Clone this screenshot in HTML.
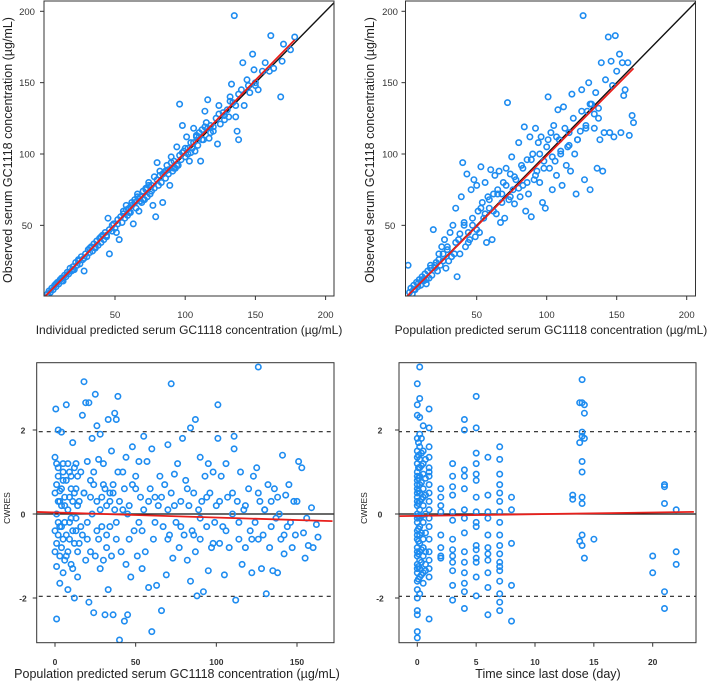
<!DOCTYPE html>
<html><head><meta charset="utf-8">
<style>
html,body{margin:0;padding:0;background:#fff;}
svg{display:block;font-family:"Liberation Sans",Arial,sans-serif;}
</style></head>
<body>
<svg id="fig" width="709" height="684" viewBox="0 0 709 684" xmlns="http://www.w3.org/2000/svg"></svg>
<script>
// ---- Panel A: observed vs individual predicted ----
const ipredX = [2,3,4,5,6,7,8,9,10,11,12,13,14,15,16,17,18,19,20,21,22,23,24,25,26,27,28,29,30,31,32,33,34,35,36,37,38,39,40,41,42,43,44,45,46,46,48,49,50,51,52,53,54,55,56,57,58,59,60,61,62,63,64,65,66,67,68,69,70,71,72,73,74,75,76,77,78,79,80,80,81,82,83,84,85,86,87,88,89,90,91,92,93,94,95,96,97,98,99,100,101,102,103,104,105,106,107,108,109,110,111,112,113,114,115,116,117,118,120,122,123,124,125,127,128,130,131,132,133,134,135,136,137,138,138,140,141,142,144,146,148,149,150,152,155,157,160,161,163,168,169,170,178,175,
 8,12,16,20,24,28,32,36,40,44,48,52,56,60,64,68,72,76,84,88,92,96,100,104,108,112,116,120,124,128,132,136,145,150,58,62,66,70,74,78,82,86,90,94,98,102,106,110,114,118];
const ipredDV = [2,4,3,6,5,8,7,10,9,12,13,11,15,14,17,16,20,18,21,19,24,22,25,23,28,26,18,30,28,33,31,35,32,37,34,39,36,41,38,43,40,45,42,55,30,47,46,51,48,45,54,40,56,52,58,55,64,57,62,59,66,51,68,62,72,60,70,66,74,68,76,70,80,72,78,64,84,56,82,94,78,88,80,66,87,83,92,86,78,98,88,95,90,105,92,135,96,120,102,98,112,100,95,108,104,118,102,113,106,115,95,117,110,130,122,138,111,120,116,125,107,134,121,129,124,131,126,140,149,136,197,126,116,110,142,145,164,134,152,143,170,159,150,145,158,164,158,183,160,140,165,177,182,173,
 9,11,17,19,26,27,34,35,42,43,50,51,60,59,66,67,75,74,86,89,90,99,104,101,112,110,118,119,128,127,137,134,148,148,61,64,70,68,78,76,85,88,94,92,101,104,108,112,119,115];
const ipredFit = [0,178]; const ipredFitY = [0,180];

// ---- Panel B: observed vs population predicted ----
const predX = [1,2,3,4,5,6,7,8,9,10,11,12,13,14,15,16,17,18,19,20,21,22,23,24,25,26,27,28,29,30,31,32,33,34,35,36,37,38,39,40,41,42,43,44,45,46,47,48,49,50,51,52,53,54,55,56,57,58,59,60,61,62,63,64,65,66,67,68,69,70,71,72,73,74,75,76,77,78,80,81,82,83,84,85,86,87,88,89,90,91,92,93,94,95,96,97,98,99,100,101,102,103,104,105,106,107,108,109,110,111,112,114,115,116,117,118,120,121,122,124,125,126,127,128,129,130,131,132,134,135,136,137,138,139,140,141,142,144,145,146,147,148,149,150,152,153,154,155,156,158,159,161,162,
 5,8,11,14,17,20,23,26,29,32,35,38,41,44,47,50,53,56,59,62,65,68,71,74,77,80,83,86,89,92,95,98,101,104,107,110,113,116,119,122,125,128,131,134,137];
const predDV = [22,3,6,2,8,5,10,7,12,8,14,11,16,9,18,13,22,15,47,20,24,18,30,22,35,25,40,20,33,25,45,28,50,30,62,14,40,30,70,94,52,35,86,45,40,75,50,82,42,78,60,45,91,66,55,80,38,70,62,89,40,72,85,58,75,88,52,72,80,55,90,136,68,86,98,75,65,82,108,70,92,78,119,60,96,72,112,56,100,82,118,88,108,80,112,66,95,62,105,140,90,115,75,120,95,85,131,110,100,78,133,92,105,115,88,142,100,72,110,116,145,197,82,120,130,150,75,135,118,143,90,125,110,164,88,115,152,182,115,165,148,112,183,158,170,115,164,141,145,164,113,127,122,
 5,9,12,12,20,22,26,30,35,28,38,44,50,38,55,47,62,58,68,60,72,66,78,70,84,76,90,80,96,85,100,90,110,98,112,102,118,106,125,110,130,118,135,128,132];
const predFit = [0,162]; const predFitY = [0,160];

// ---- Panel C: CWRES vs population predicted ----
const cPred = [0,0,0.5,1,1,1,1,2,2,2,2,3,3,3,4,4,4,5,5,5,6,6,7,7,8,8,9,9,10,10,11,11,12,12,13,13,14,14,15,15,16,17,17,18,18,19,19,20,20,21,21,22,22,23,23,24,24,25,25,26,26,27,27,28,28,29,29,30,30,31,31,32,32,33,33,34,34,35,35,36,36,37,37,38,38,39,39,40,40,41,42,43,43,44,44,45,45,46,47,48,48,49,50,51,52,52,53,54,55,55,56,57,58,59,60,60,61,62,63,64,65,66,67,68,69,70,70,71,72,72,73,74,75,76,77,78,79,80,81,82,83,84,84,85,86,87,87,88,89,90,90,91,92,93,94,95,95,96,97,98,99,100,101,101,102,103,104,105,106,107,108,110,111,111,112,113,114,115,116,117,118,120,121,122,123,124,125,126,126,127,128,129,130,131,132,133,134,135,136,137,138,139,140,141,142,143,144,145,146,147,148,149,150,151,153,154,155,156,157,159,160,162,163,
 0,0,1,1,2,2,3,3,4,4,5,5,6,6,7,7,8,8,9,9,10,10,11,11,12,12,13,13,14,14,16,18,20,22,24,26,28,30,32,34,36,38,42,46,50,54,58,62,66,70,74,78,82,86,90,94,98,102,106,110,114,118,122,126,130,134,138,142];
const cRes = [1.35,-0.9,2.5,0.7,-1.25,0.0,-2.5,2.0,-0.5,0.3,1.1,-1.65,0.55,-0.3,1.95,-0.8,0.2,1.2,-1.4,0.8,-0.2,0.4,2.6,-1.0,0.1,-1.8,1.0,-0.6,-0.1,0.6,1.7,-1.3,-2.0,0.5,1.2,-0.4,0.9,-1.5,0.3,-0.7,1.0,2.35,-0.5,3.15,0.5,2.65,-1.1,1.25,-0.2,2.65,-2.1,0.8,-0.9,1.8,0.0,-2.35,1.0,2.85,-1.0,2.1,0.3,-0.6,1.3,1.9,-1.3,0.4,-0.3,1.2,-1.1,-2.4,0.6,0.2,-0.8,2.25,-1.8,0.5,-0.3,1.5,-1.0,0.7,-2.4,2.4,0.1,2.25,-0.6,2.8,1.0,-3.0,0.3,-0.9,1.0,-2.55,0.6,1.35,-1.2,-2.4,0.0,0.2,-1.5,1.6,0.7,-0.4,0.9,-1.0,1.25,-0.2,0.4,-1.3,1.85,0.1,-0.9,1.25,-1.75,0.6,1.55,-2.8,-0.6,0.4,-1.7,0.2,0.9,-2.3,-0.3,0.7,-1.45,1.65,0.1,-0.5,3.1,0.5,-1.05,0.95,-0.2,1.2,-0.8,0.3,1.8,-0.5,0.8,-1.1,0.2,2.05,-1.6,-0.4,0.5,2.25,-0.9,-1.95,0.1,1.35,-0.6,0.3,-1.85,0.9,-0.3,1.2,-1.35,0.5,-0.8,1.0,-0.2,0.2,2.6,1.8,-0.7,0.9,-0.3,-1.45,1.2,0.4,-0.8,0.0,1.85,1.55,-2.05,0.3,-0.6,1.0,-1.2,0.1,-0.8,0.6,-0.4,-1.4,0.9,-0.2,1.1,3.5,-0.6,0.3,-1.3,-0.5,0.1,-1.9,0.7,-0.8,0.3,-1.35,0.6,-0.1,-1.4,0.0,-0.6,1.4,-0.95,0.45,-0.3,0.7,-0.2,-0.8,0.3,-0.5,0.3,1.25,1.1,-0.45,-1.05,-0.1,-0.75,0.15,-0.8,-0.25,-0.55,
 0.5,-0.4,1.2,-0.7,0.9,-0.2,0.3,-1.0,0.6,-0.3,1.0,-0.6,0.2,-1.1,0.8,-0.5,1.2,-0.9,0.4,-0.2,0.9,-1.2,0.3,-0.4,1.1,-0.7,0.6,-0.1,0.2,-0.9,-0.3,0.5,-0.6,0.4,0.7,-0.4,0.1,0.7,-0.5,0.3,0.5,-0.2,0.1,-0.6,0.6,-0.4,0.3,-0.2,0.4,-0.6,0.2,-0.3,0.6,-0.5,-0.1,0.4,-0.7,0.3,-0.4,0.5,-0.2,0.2,-0.6,0.5,0.1,-0.3,0.4,-0.5];
const cFitX = [-12,172]; const cFitY = [0.05,-0.17];

// ---- Panel D: CWRES vs time since last dose ----
const dTime = [0,0,0,0,0,0,0,0,0,0,0,0,0,0,0,0,0,0,0,0,0,0,0,0,0,0,0,0,0,0,0,0,0,0,0,
0.2,0.2,0.2,0.2,0.2,0.2,0.2,0.2,0.2,0.2,0.2,0.2,0.2,0.2,0.2,0.2,0.2,0.2,0.2,0.2,0.2,
0.5,0.5,0.5,0.5,0.5,0.5,0.5,0.5,0.5,0.5,0.5,0.5,0.5,
1,1,1,1,1,1,1,1,1,1,1,1,1,1,1,1,1,1,1,
2,2,2,2,2,2,2,2,
3,3,3,3,3,3,3,3,3,3,3,3,3,
4,4,4,4,4,4,4,4,4,4,4,4,4,4,
5,5,5,5,5,5,5,5,5,5,5,5,5,5,5,5,
6,6,6,6,6,6,6,6,6,6,6,
7,7,7,7,7,7,7,7,7,7,7,7,7,7,7,7,7,7,
8,8,8,8,8,
13.2,13.2,13.8,13.8,13.8,
14,14,14,14,14,14,14,14,14,14,
14.2,14.2,14.2,14.2,15,20,20,21,21,21,21,21,22,22,22,
0.1,0.1,0.1,0.1,0.1,0.1,0.1,0.1,0.1,0.1,0.1,0.1,0.35,0.35,0.35,0.35,0.35,0.35,0.35,0.35,0.35,0.35,0.7,0.7,0.7,0.7,0.7,0.7,0.7,0.7];
const dRes = [3.1,2.6,2.35,1.8,1.5,1.2,1.0,0.8,0.6,0.4,0.2,0.0,-0.2,-0.4,-0.6,-0.8,-1.0,-1.2,-1.4,-1.6,-1.8,-2.0,-2.3,-2.4,-2.8,-2.95,1.35,0.9,0.5,-0.1,-0.5,-0.9,-1.3,0.7,0.3,
3.5,2.75,2.3,1.9,1.6,1.3,1.1,0.9,0.7,0.5,0.3,0.1,-0.1,-0.3,-0.5,-0.7,-0.9,-1.1,-1.3,-1.5,-1.9,
2.1,1.5,1.2,0.95,0.6,0.2,-0.2,-0.6,-1.0,-1.4,-1.65,0.4,-0.8,
2.5,2.05,1.6,1.35,1.1,0.9,0.7,0.5,0.3,0.1,-0.3,-0.6,-0.9,-1.1,-1.3,-1.5,-2.5,1.0,-0.1,
0.6,0.4,0.2,0.05,-0.5,-0.8,-1.0,-1.05,
1.2,0.9,0.65,0.45,0.05,-0.15,-0.6,-0.85,-1.0,-1.15,-1.35,-1.7,-2.05,
2.25,2.0,1.05,0.9,0.6,0.1,-0.1,-0.45,-0.9,-1.15,-1.4,-1.65,-1.85,-2.25,
2.8,2.05,1.45,1.2,0.95,0.8,0.4,0.05,-0.2,-0.3,-0.75,-0.85,-1.05,-1.15,-1.5,-1.95,
1.35,0.45,0.05,-0.1,-0.5,-0.8,-0.95,-1.1,-1.4,-1.75,-2.4,
1.6,1.3,0.95,0.7,0.5,0.3,0.05,-0.2,-0.5,-0.75,-0.95,-1.15,-1.25,-1.35,-1.6,-1.9,-2.1,-2.3,
0.4,0.1,-0.7,-1.7,-2.55,
0.45,0.35,2.65,1.7,-0.65,
3.2,2.65,1.95,1.85,1.25,1.0,0.4,0.25,-0.5,-0.75,
2.6,2.4,1.8,-1.05,-0.6,-1.0,-1.4,0.7,0.65,0.25,-1.85,-2.25,0.1,-0.9,-1.2,
1.7,1.4,1.1,0.85,0.55,0.25,-0.05,-0.35,-0.65,-0.95,-1.25,-1.55,1.8,1.45,1.15,0.75,0.35,-0.05,-0.45,-0.85,-1.15,-1.45,1.3,0.85,0.45,0.0,-0.45,-0.9,-1.2,-1.35];
const dFitX = [-1.5,23.5]; const dFitY = [-0.05,0.05];

const topTicks = [50,100,150,200];
const cTicksX = [0,50,100,150];
const dTicksX = [0,5,10,15,20];
const resTicks = [-2,0,2];

const NS = "http://www.w3.org/2000/svg";
const svg = document.getElementById('fig');
function mk(tag, attrs, parent){ const e=document.createElementNS(NS,tag); for(const k in attrs) e.setAttribute(k,attrs[k]); (parent||svg).appendChild(e); return e; }
function lin(d0,d1,r0,r1){ return v => r0 + (v-d0)/(d1-d0)*(r1-r0); }
const BLUE = "#1e8cf0";

function panel(cfg){
  const g = mk('g',{});
  
  
  const {L,R,T,B} = cfg.box;
  const clipId = cfg.name+'-clip';
  const cp = mk('clipPath',{id:clipId},g); mk('rect',{x:L,y:T,width:R-L,height:B-T},cp);
  const plot = mk('g',{'clip-path':`url(#${clipId})`},g);
  cfg.refs(plot);
  for(let i=0;i<cfg.xs.length;i++){
    const c = mk('circle',{cx:cfg.sx(cfg.xs[i]).toFixed(1),cy:cfg.sy(cfg.ys[i]).toFixed(1),r:2.7,fill:'none',stroke:BLUE,'stroke-width':1.6},plot);
    
    
  }
  const f = mk('line',{x1:cfg.sx(cfg.fx[0]),y1:cfg.sy(cfg.fy[0]),x2:cfg.sx(cfg.fx[1]),y2:cfg.sy(cfg.fy[1]),stroke:'#e8201c','stroke-width':1.8},plot);
  
  
  const bx = mk('rect',{x:L,y:T,width:R-L,height:B-T,fill:'none',stroke:'#333','stroke-width':1},g);
  
  
  cfg.xticks.forEach(t=>{
    const x=cfg.sx(t);
    mk('line',{x1:x,y1:B,x2:x,y2:B+4,stroke:'#333'},g);
    const tx = mk('text',{x:x,y:cfg.xtickY,'font-size':cfg.tickFs,'font-weight':cfg.tickW,'text-anchor':'middle',fill:'#333'},g);
    tx.textContent=t;
    
    
  });
  cfg.yticks.forEach(t=>{
    const y=cfg.sy(t);
    mk('line',{x1:L-4,y1:y,x2:L,y2:y,stroke:'#333'},g);
    const tx = mk('text',{x:cfg.ytickX,y:y+3.5,'font-size':cfg.tickFs,'font-weight':cfg.tickW,'text-anchor':'middle',fill:'#333'},g);
    tx.textContent=t;
    
    
  });
  const xt = mk('text',{x:cfg.xtitle[1],y:cfg.xtitle[2],'font-size':cfg.xtitle[3],'text-anchor':'middle',fill:'#222'},g);
  xt.textContent = cfg.xtitle[0];
  
  
  const yt = mk('text',{x:0,y:0,'font-size':cfg.ytitle[3],'text-anchor':'middle',fill:'#222',transform:`translate(${cfg.ytitle[1]},${cfg.ytitle[2]}) rotate(-90)`},g);
  yt.textContent = cfg.ytitle[0];
  
  
}

{
  const sx = lin(0,200,44.8,325.6), sy = lin(0,200,296.7,11.3);
  panel({name:'panel-ipred-vs-observed',box:{L:44,R:334,T:1,B:296},sx,sy,xs:ipredX,ys:ipredDV,fx:ipredFit,fy:ipredFitY,
    refs:p=>{const l=mk('line',{x1:sx(0),y1:sy(0),x2:sx(210),y2:sy(210),stroke:'#111','stroke-width':1.4},p);},
    xticks:topTicks,yticks:topTicks,xtickY:318,ytickX:27,tickFs:9.5,tickW:'normal',
    xtitle:['Individual predicted serum GC1118 concentration (\u00b5g/mL)',189,334,12],
    ytitle:['Observed serum GC1118 concentration (\u00b5g/mL)',12,150,12.5]});
}
{
  const sx = lin(0,200,406.7,686.7), sy = lin(0,200,296.7,11.3);
  panel({name:'panel-pred-vs-observed',box:{L:405.5,R:695.5,T:1,B:296},sx,sy,xs:predX,ys:predDV,fx:predFit,fy:predFitY,
    refs:p=>{const l=mk('line',{x1:sx(0),y1:sy(0),x2:sx(210),y2:sy(210),stroke:'#111','stroke-width':1.4},p);},
    xticks:topTicks,yticks:topTicks,xtickY:318,ytickX:390,tickFs:9.5,tickW:'normal',
    xtitle:['Population predicted serum GC1118 concentration (\u00b5g/mL)',551,334,12],
    ytitle:['Observed serum GC1118 concentration (\u00b5g/mL)',374,150,12.5]});
}
function resRefs(sx,sy,x0,x1){ return p=>{
  const z=mk('line',{x1:sx(x0),y1:sy(0),x2:sx(x1),y2:sy(0),stroke:'#111','stroke-width':1.2},p);
   
  [1.96,-1.96].forEach(v=>{const d=mk('line',{x1:sx(x0),y1:sy(v),x2:sx(x1),y2:sy(v),stroke:'#222','stroke-width':1.2,'stroke-dasharray':'4,4'},p);
     });
};}
{
  const sx = lin(0,150,55,297), sy = lin(-2,2,598,430);
  panel({name:'panel-cwres-vs-pred',box:{L:36.7,R:334,T:362.7,B:642.7},sx,sy,xs:cPred,ys:cRes,fx:cFitX,fy:cFitY,
    refs:resRefs(sx,sy,-20,180),
    xticks:cTicksX,yticks:resTicks,xtickY:665,ytickX:23,tickFs:8.5,tickW:'bold',
    xtitle:['Population predicted serum GC1118 concentration (\u00b5g/mL)',177,678,12.5],
    ytitle:['CWRES',10,508,8.5]});
}
{
  const sx = lin(0,20,417.3,652.7), sy = lin(-2,2,598,430);
  panel({name:'panel-cwres-vs-time',box:{L:399,R:696,T:362.7,B:642.7},sx,sy,xs:dTime,ys:dRes,fx:dFitX,fy:dFitY,
    refs:resRefs(sx,sy,-3,25),
    xticks:dTicksX,yticks:resTicks,xtickY:665,ytickX:380,tickFs:8.5,tickW:'bold',
    xtitle:['Time since last dose (day)',548,678,12.5],
    ytitle:['CWRES',367,508,8.5]});
}
</script>
</body></html>
